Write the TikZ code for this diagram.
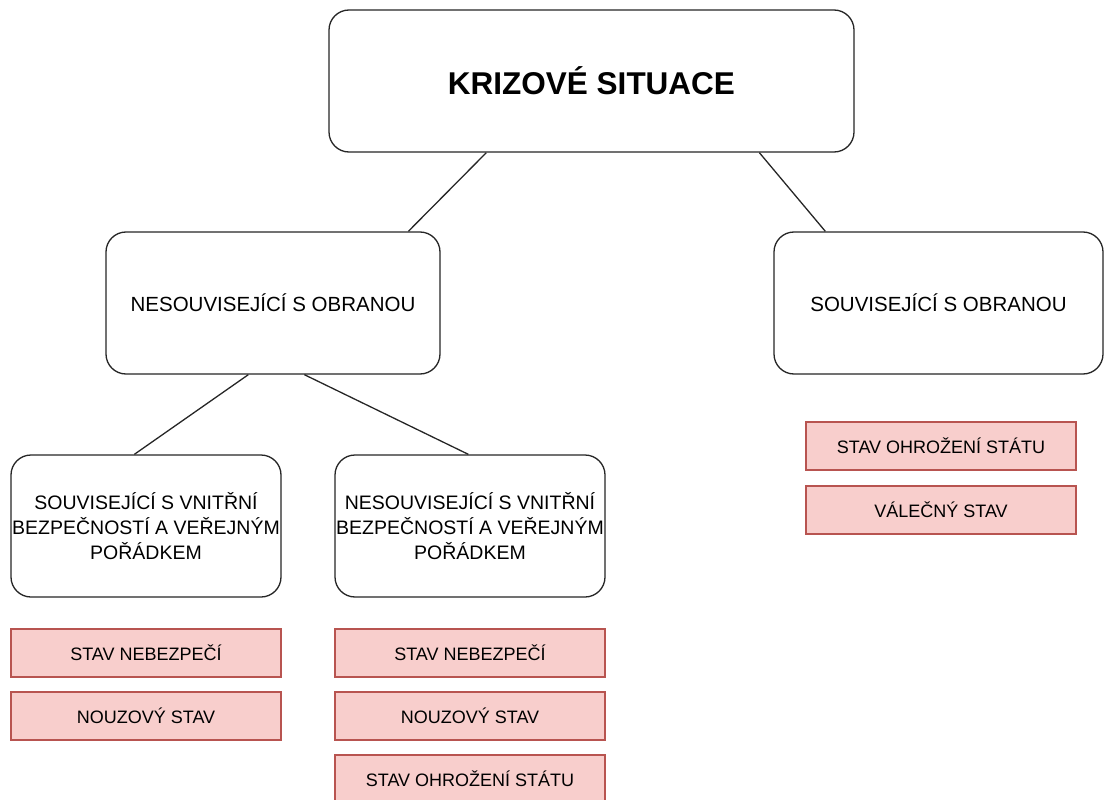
\documentclass[tikz,border=0pt]{standalone}
\usepackage{fontspec}
\setmainfont{Liberation Sans}
\definecolor{redfill}{HTML}{F8CECC}
\definecolor{redline}{HTML}{B85450}
\begin{document}
\begin{tikzpicture}[x=1pt,y=-1pt,
  catbox/.style={draw=black!85,line width=1.3pt,rounded corners=20pt,fill=white,
    minimum height=142pt,inner sep=0pt,align=center},
  statebox/.style={draw=redline,line width=1.2pt,fill=redfill,minimum width=270pt,
    minimum height=48pt,inner sep=0pt,font=\fontsize{18}{22}\selectfont},
  link/.style={draw=black!85,line width=1.3pt}]
\useasboundingbox (0,0) rectangle (1104,800);
\clip (0,0) rectangle (1104,800);

% category tree
\node[catbox,minimum width=525pt,font=\fontsize{31.5}{36}\selectfont\bfseries] (top) at (591.5,81) {KRIZOVÉ SITUACE};
\node[catbox,minimum width=334pt,font=\fontsize{20.5}{25}\selectfont] (lmid) at (273,303) {NESOUVISEJÍCÍ S OBRANOU};
\node[catbox,minimum width=329pt,font=\fontsize{20.5}{25}\selectfont] (rmid) at (938.5,303) {SOUVISEJÍCÍ S OBRANOU};
\node[catbox,minimum width=270pt,font=\fontsize{19.5}{25}\selectfont] (bl) at (146,526) {SOUVISEJÍCÍ S VNITŘNÍ\\BEZPEČNOSTÍ A VEŘEJNÝM\\POŘÁDKEM};
\node[catbox,minimum width=270pt,font=\fontsize{19.5}{25}\selectfont] (bm) at (470,526) {NESOUVISEJÍCÍ S VNITŘNÍ\\BEZPEČNOSTÍ A VEŘEJNÝM\\POŘÁDKEM};

% connectors
\draw[link] ([xshift=158pt]top.south west) -- ([xshift=303pt]lmid.north west);
\draw[link] ([xshift=431pt]top.south west) -- ([xshift=52pt]rmid.north west);
\draw[link] ([xshift=143pt]lmid.south west) -- ([xshift=124pt]bl.north west);
\draw[link] ([xshift=199pt]lmid.south west) -- ([xshift=134pt]bm.north west);

% states
\node[statebox] (bl1) at (146,653) {STAV NEBEZPEČÍ};
\node[statebox] (bl2) at (146,716) {NOUZOVÝ STAV};
\node[statebox] (bm1) at (470,653) {STAV NEBEZPEČÍ};
\node[statebox] (bm2) at (470,716) {NOUZOVÝ STAV};
\node[statebox] (bm3) at (470,779) {STAV OHROŽENÍ STÁTU};
\node[statebox] (r1) at (941,446) {STAV OHROŽENÍ STÁTU};
\node[statebox] (r2) at (941,510) {VÁLEČNÝ STAV};
\end{tikzpicture}
\end{document}
